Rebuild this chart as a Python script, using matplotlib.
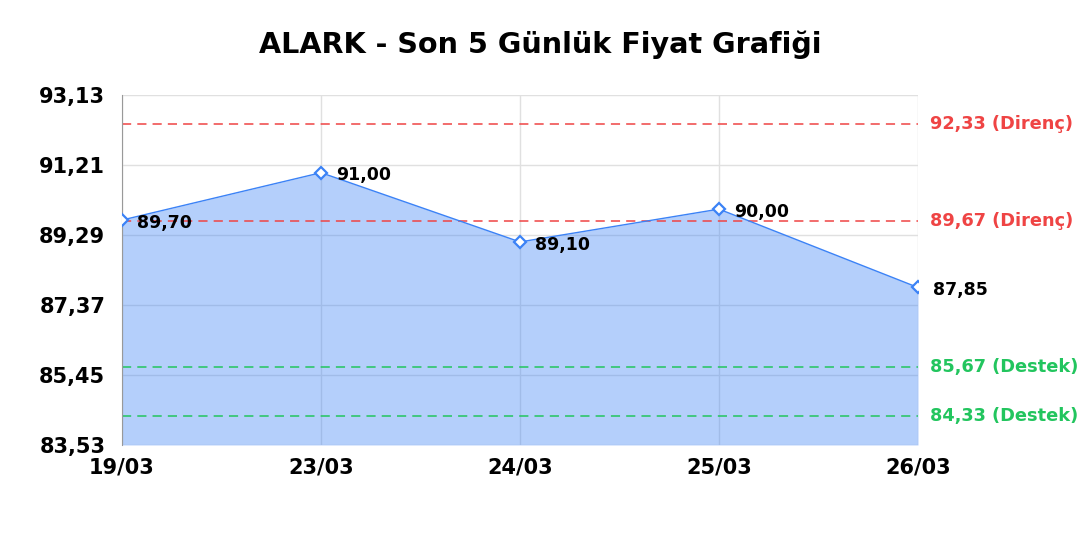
import numpy as np
import matplotlib
matplotlib.use("Agg")
import matplotlib.pyplot as plt

# data
dates = ["19/03", "23/03", "24/03", "25/03", "26/03"]
prices = [89.70, 91.00, 89.10, 90.00, 87.85]
resistance = [92.33, 89.67]
support = [85.67, 84.33]
y_ticks = [83.53, 85.45, 87.37, 89.29, 91.21, 93.13]

blue = "#3b82f6"
red = "#ef4444"
green = "#22c55e"

plt.rcParams['font.family'] = ['DejaVu Sans']

fig = plt.figure(figsize=(10.8, 5.4), dpi=100)
ax = fig.add_axes([0.113, 0.176, 0.737, 0.648])

x = np.arange(len(dates))
ax.fill_between(x, prices, y_ticks[0], color=blue, alpha=0.38, linewidth=0, zorder=1)
ax.plot(x, prices, color=blue, linewidth=1, zorder=3)
ax.plot(x, prices, linestyle='none', marker='D', markersize=6,
        markerfacecolor='white', markeredgecolor=blue, markeredgewidth=1.6, zorder=4)

for xi, p in zip(x, prices):
    ax.annotate(f"{p:.2f}".replace('.', ','), (xi, p), xytext=(11, -2),
                textcoords='offset points', fontsize=12.5, fontweight='bold',
                va='center', ha='left', zorder=5, annotation_clip=False)

for lvl in resistance:
    ax.axhline(lvl, color=red, linestyle=(0, (6, 4)), linewidth=1.1, zorder=2)
    ax.annotate(f"{lvl:.2f} (Direnç)".replace('.', ','), (1, lvl),
                xycoords=('axes fraction', 'data'), xytext=(8.5, 0),
                textcoords='offset points', color=red, fontsize=12.8,
                fontweight='bold', va='center', ha='left')
for lvl in support:
    ax.axhline(lvl, color=green, linestyle=(0, (6, 4)), linewidth=1.1, zorder=2)
    ax.annotate(f"{lvl:.2f} (Destek)".replace('.', ','), (1, lvl),
                xycoords=('axes fraction', 'data'), xytext=(8.5, 0),
                textcoords='offset points', color=green, fontsize=12.8,
                fontweight='bold', va='center', ha='left')

ax.set_xlim(0, len(dates) - 1)
ax.set_ylim(y_ticks[0], y_ticks[-1])
ax.set_xticks(x)
ax.set_xticklabels(dates, fontsize=15, fontweight='bold')
ax.set_yticks(y_ticks)
ax.set_yticklabels([f"{t:.2f}".replace('.', ',') for t in y_ticks],
                   fontsize=15, fontweight='bold')
ax.tick_params(axis='x', length=0, pad=9)
ax.tick_params(axis='y', length=0, pad=12)
ax.grid(True, color='#e0e0e0', linewidth=1, zorder=0)
ax.set_axisbelow(True)
for side in ['top', 'right', 'bottom']:
    ax.spines[side].set_visible(False)
ax.spines['left'].set_color('#999999')

fig.text(0.5, 0.918, "ALARK - Son 5 Günlük Fiyat Grafiği", ha='center',
         va='center', fontsize=20.6, fontweight='bold')

fig.savefig("out.png", dpi=100)
